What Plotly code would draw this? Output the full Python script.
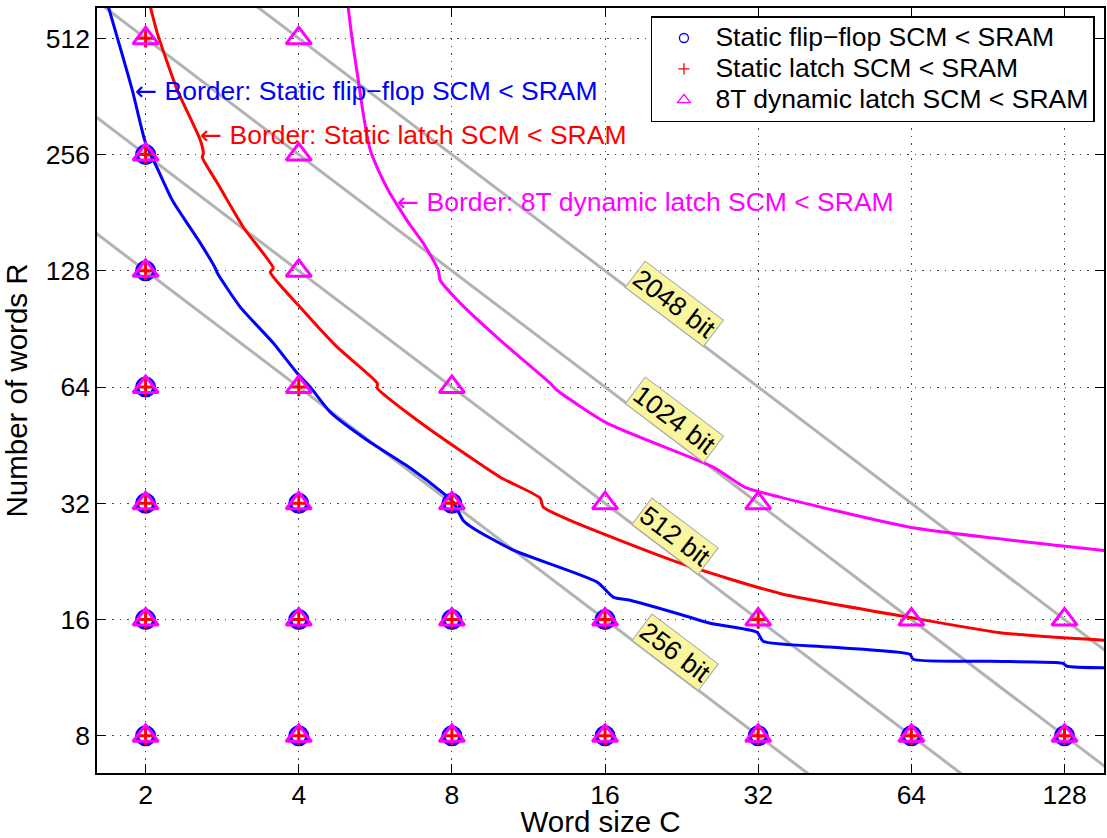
import numpy as np
import plotly.graph_objects as go

# ---------------- data ----------------
# Grid points where the SCM is smaller than the SRAM (word size C, number of words R)
ff_C = [2, 2, 2, 2, 2, 2, 4, 4, 4, 8, 8, 8, 16, 16, 32, 64, 128]
ff_R = [8, 16, 32, 64, 128, 256, 8, 16, 32, 8, 16, 32, 8, 16, 8, 8, 8]

lat_C = [2, 2, 2, 2, 2, 2, 2, 4, 4, 4, 4, 8, 8, 8, 16, 16, 32, 32, 64, 128]
lat_R = [8, 16, 32, 64, 128, 256, 512, 8, 16, 32, 64, 8, 16, 32, 8, 16, 8, 16, 8, 8]

dyn_C = [2, 2, 2, 2, 2, 2, 2, 4, 4, 4, 4, 4, 4, 4, 8, 8, 8, 8, 16, 16, 16, 32, 32, 32, 64, 64, 128, 128]
dyn_R = [8, 16, 32, 64, 128, 256, 512, 8, 16, 32, 64, 128, 256, 512, 8, 16, 32, 64, 8, 16, 32, 8, 16, 32, 8, 16, 8, 16]

# Border curves
ff_border_C = [1.675, 1.883, 1.997, 2.118, 2.257, 2.372, 2.562, 2.742, 2.767, 3.070, 3.564, 3.973,
               4.213, 4.613, 5.453, 6.625, 7.69, 8.05, 8.42, 8.81, 10.56, 15.44, 16.60, 17.92, 22.78,
               25.74, 31.84, 32.72, 44.3, 63.6, 64.5, 91.3, 127.1, 129.5, 160.0]
ff_border_R = [643, 376, 276, 233, 195, 176, 151, 130, 126.3, 103.1, 83.2, 69.5,
               64.0, 55.1, 46.6, 39.5, 34.0, 32.2, 28.9, 27.6, 24.2, 20.0, 18.3, 17.95, 16.42,
               15.65, 14.83, 14.06, 13.58, 13.01, 12.63, 12.47, 12.33, 12.11, 12.0]

lat_border_C = [2.03, 2.109, 2.309, 2.562, 2.597, 2.585, 2.767, 3.112, 3.564, 3.516, 4.027, 4.761,
                5.706, 5.706, 6.838, 8.01, 9.95, 11.93, 12.09, 13.66, 22.47, 35.33, 63.6, 95.6, 160.0]
lat_border_R = [640, 528, 376, 279, 258, 252, 216, 166, 130, 127, 103, 81.2,
                65.5, 63.6, 52.5, 45.3, 37.4, 33.0, 31.3, 28.9, 22.4, 18.7, 16.2, 14.8, 14.1]

dyn_border_C = [4.982, 5.096, 5.236, 5.380, 5.528, 5.733, 5.998, 6.246, 6.625, 7.026, 7.52, 7.587,
                8.307, 9.95, 12.48, 12.88, 16.15, 26.10, 30.15, 35.33, 63.6, 127.1, 160.0]
dyn_border_R = [643, 507, 399, 314.5, 263, 233.4, 207, 189.4, 168, 151, 128.5, 121,
                105.6, 84.7, 65.5, 62.8, 51.6, 39.7, 35.2, 33.2, 27.75, 24.8, 24.0]

# Constant-capacity lines C*R = bits
bits = [256, 512, 1024, 2048]
bit_labels = ["256 bit", "512 bit", "1024 bit", "2048 bit"]
label_C = 21.0

x_ticks = [2, 4, 8, 16, 32, 64, 128]
y_ticks = [8, 16, 32, 64, 128, 256, 512]

# ---------------- styling ----------------
FONT = "Liberation Sans, Arial, Helvetica, sans-serif"
FS = 26.5
BLUE, RED, MAG, GRAY = "#0000ff", "#ff0000", "#ff00ff", "#b3b3b3"
x_range = [0.2055, 2.1848]
y_range = [0.8068, 2.7878]

fig = go.Figure()

C_span = np.array([10 ** (x_range[0] - 0.2), 10 ** (x_range[1] + 0.2)])
for b in bits:
    fig.add_trace(go.Scatter(x=C_span, y=b / C_span, mode="lines",
                             line=dict(color=GRAY, width=3), showlegend=False, hoverinfo="skip"))

for cx, ry, col in [(ff_border_C, ff_border_R, BLUE), (lat_border_C, lat_border_R, RED),
                    (dyn_border_C, dyn_border_R, MAG)]:
    fig.add_trace(go.Scatter(x=cx, y=ry, mode="lines", showlegend=False,
                             line=dict(color=col, width=3, shape="spline", smoothing=0.6)))

fig.add_trace(go.Scatter(x=ff_C, y=ff_R, mode="markers", showlegend=False,
                         marker=dict(symbol="circle-open", size=17, color=BLUE,
                                     line=dict(color=BLUE, width=4))))
fig.add_trace(go.Scatter(x=lat_C, y=lat_R, mode="markers", showlegend=False,
                         marker=dict(symbol="cross-thin-open", size=13, color=RED,
                                     line=dict(color=RED, width=3))))
fig.add_trace(go.Scatter(x=dyn_C, y=dyn_R, mode="markers", showlegend=False,
                         marker=dict(symbol="triangle-up-open", size=22, color=MAG,
                                     line=dict(color=MAG, width=3))))

# legend entries (small symbols as in the original legend)
def big(s):
    return "<span style='font-size:%spx'>%s</span>" % (FS, s)

fig.add_trace(go.Scatter(x=[None], y=[None], mode="markers", name=big("Static flip\u2212flop SCM < SRAM"),
                         marker=dict(symbol="circle-open", size=9, color=BLUE, line=dict(color=BLUE, width=1.3))))
fig.add_trace(go.Scatter(x=[None], y=[None], mode="markers", name=big("Static latch SCM < SRAM"),
                         marker=dict(symbol="cross-thin-open", size=8, color=RED, line=dict(color=RED, width=1.3))))
fig.add_trace(go.Scatter(x=[None], y=[None], mode="markers", name=big("8T dynamic latch SCM < SRAM"),
                         marker=dict(symbol="triangle-up-open", size=11, color=MAG, line=dict(color=MAG, width=1.3))))

# border annotations
ARROW = "<span style='font-family:DejaVu Sans'>\u2190</span>"
border_text = [
    (ARROW + " Border: Static flip\u2212flop SCM < SRAM", 1.893, 376, BLUE),
    (ARROW + " Border: Static latch SCM < SRAM", 2.53, 288, RED),
    (ARROW + " Border: 8T dynamic latch SCM < SRAM", 6.17, 193, MAG),
]
for txt, cx, ry, col in border_text:
    fig.add_annotation(x=np.log10(cx), y=np.log10(ry), xref="x", yref="y", text=txt,
                       showarrow=False, xanchor="left", yanchor="middle",
                       font=dict(family=FONT, size=FS, color=col))

for b, lab in zip(bits, bit_labels):
    fig.add_annotation(x=np.log10(label_C), y=np.log10(b / label_C), xref="x", yref="y", text=lab,
                       showarrow=False, textangle=37, xanchor="center", yanchor="middle",
                       xshift=9.6, yshift=12.8,
                       bgcolor="#faf6a0", bordercolor="#a8a8a8", borderwidth=1, borderpad=1,
                       font=dict(family=FONT, size=FS, color="black"))

axis_common = dict(
    type="log", showline=True, linecolor="black", linewidth=1.5, mirror="ticks",
    ticks="inside", ticklen=9, tickwidth=1, tickcolor="black",
    showgrid=True, gridcolor="#444444", gridwidth=1, griddash="1.5px,6px",
    zeroline=False, tickfont=dict(family=FONT, size=FS, color="black"),
)

fig.update_layout(
    width=1107, height=838,
    margin=dict(l=97, r=3, t=8, b=65, autoexpand=False),
    paper_bgcolor="white", plot_bgcolor="white",
    font=dict(family=FONT, size=FS, color="black"),
    xaxis=dict(axis_common, range=x_range, tickvals=x_ticks, ticktext=[str(v) for v in x_ticks],
               ticklabelstandoff=-3,
               title=dict(text="Word size C", font=dict(family=FONT, size=29.5), standoff=9)),
    yaxis=dict(axis_common, range=y_range, tickvals=y_ticks, ticktext=[str(v) for v in y_ticks],
               title=dict(text="Number of words R", font=dict(family=FONT, size=29.5), standoff=9)),
    legend=dict(x=0.991, y=0.9895, xanchor="right", yanchor="top", bgcolor="white",
                bordercolor="black", borderwidth=1.5, font=dict(family=FONT, size=21.5),
                itemwidth=53, tracegroupgap=0),
    showlegend=True,
)

fig.write_html("out.html")
